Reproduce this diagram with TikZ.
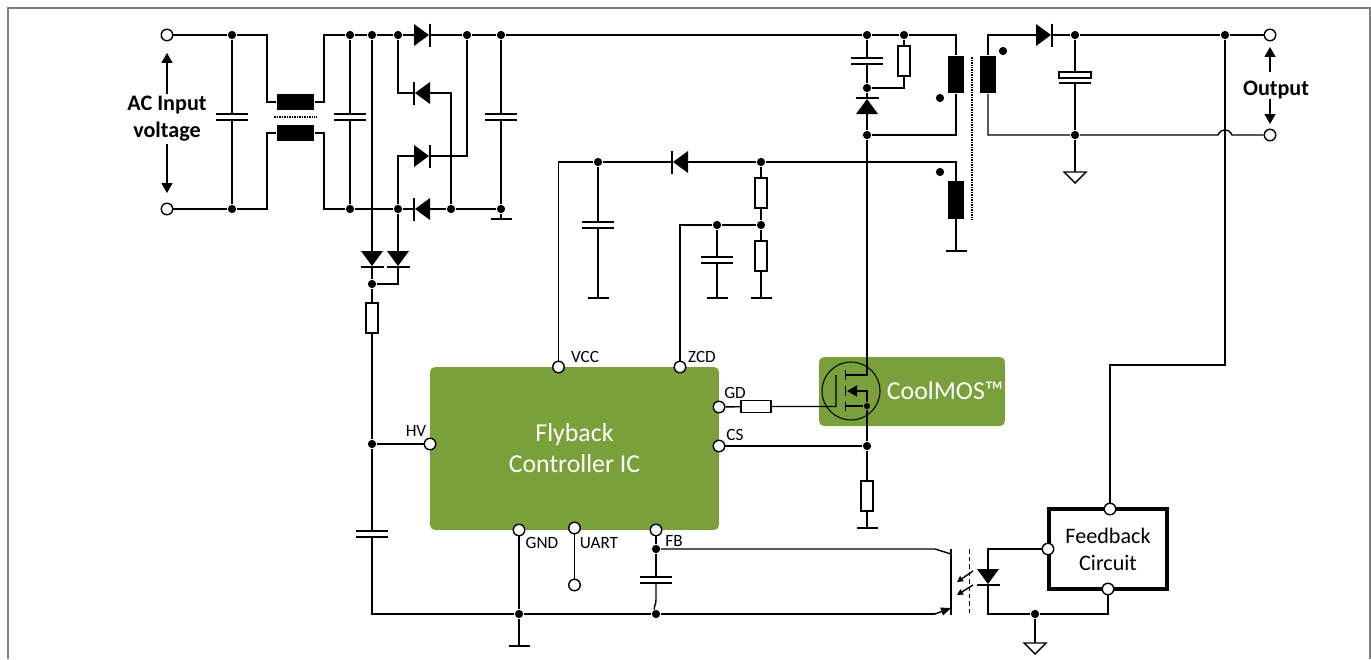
\documentclass[tikz,border=0pt]{standalone}
\usepackage{fontspec}
\setmainfont{Carlito}
\usetikzlibrary{arrows.meta}
\definecolor{icgreen}{HTML}{7AA03B}
\definecolor{framegray}{HTML}{7F7F7F}
\tikzset{
	junction/.style={circle,fill=black,inner sep=0pt,minimum size=0.165cm},
	pinnode/.style={circle,draw=black,fill=white,inner sep=0pt,minimum size=0.23cm},
	resv/.style={rectangle,draw=black,fill=white,inner sep=0pt,minimum width=0.24cm,minimum height=0.6cm},
	resh/.style={rectangle,draw=black,fill=white,inner sep=0pt,minimum width=0.6cm,minimum height=0.24cm},
	coilv/.style={rectangle,fill=black,inner sep=0pt,minimum width=0.32cm,minimum height=0.75cm},
	coilh/.style={rectangle,fill=black,inner sep=0pt,minimum width=0.75cm,minimum height=0.32cm},
	icbox/.style={rectangle,rounded corners=0.1cm,fill=icgreen,text=white,inner sep=0pt,align=center,font=\fontsize{14.7}{17.6}\selectfont},
	fbbox/.style={rectangle,draw=black,line width=2pt,fill=white,inner sep=0pt,align=center,minimum width=2.36cm,minimum height=1.6cm,font=\fontsize{12.6}{15.3}\selectfont},
	pinlabel/.style={inner sep=0pt,font=\fontsize{9.8}{11}\selectfont},
	boldlabel/.style={inner sep=1pt,align=center,font=\bfseries\fontsize{12.6}{15.3}\selectfont},
	voltarrow/.style={-{Triangle[length=0.2cm,width=0.22cm]}},
	coredash/.style={dash pattern=on 0.03cm off 0.02cm},
	pics/diode/.style={code={
		\fill (-8,-11) -- (-8,11) -- (7,0) -- cycle;
		\draw (8,-11.5) -- (8,11.5);
		\coordinate (-a) at (-8,0);
		\coordinate (-k) at (8,0);
	}},
	pics/capv/.style={code={
		\draw (-16,-3) -- (16,-3) (-16,3) -- (16,3);
		\coordinate (-t) at (0,-3);
		\coordinate (-b) at (0,3);
	}},
	pics/capp/.style={code={
		\draw[fill=white] (-16,-5) rectangle (16,1);
		\draw (-16,6) -- (16,6);
		\coordinate (-t) at (0,-5);
		\coordinate (-b) at (0,6);
	}},
	pics/gndbar/.style={code={
		\draw[line width=1.2pt] (-10.5,0) -- (10.5,0);
		\coordinate (-t) at (0,0);
	}},
	pics/gndtri/.style={code={
		\draw (-11,0) -- (11,0) -- (0,11) -- cycle;
		\coordinate (-t) at (0,0);
	}},
}
\begin{document}
\begin{tikzpicture}[x=0.02cm,y=-0.02cm,line width=0.8pt]
	\useasboundingbox (0,0) rectangle (1371,659);
	\coordinate (framea) at (8,659);
	\coordinate (frameb) at (8,8);
	\coordinate (framec) at (1370,8);
	\coordinate (framed) at (1370,659);
	\draw[framegray,line width=0.9pt] (framea) -- (frameb) -- (framec) -- (framed);

	\node[icbox,minimum width=5.78cm,minimum height=3.26cm] (ic) at (574.5,448.5) {Flyback\\Controller IC};
	\node[icbox,minimum width=3.72cm,minimum height=1.38cm] (mosbox) at (912,391.5) {};
	\node[text=white,inner sep=0pt,font=\fontsize{14.7}{17.6}\selectfont] (moslabel) at (945,391) {CoolMOS™};
	\node[fbbox] (fbc) at (1108,549) {Feedback\\Circuit};

	\node[pinnode] (ina) at (167,35) {};
	\node[pinnode] (inb) at (167,209) {};
	\node[pinnode] (outa) at (1270,35) {};
	\node[pinnode] (outb) at (1270,135) {};
	\node[pinnode] (vcc) at (558.5,367) {};
	\node[pinnode] (zcd) at (680,367) {};
	\node[pinnode] (gd) at (719,407) {};
	\node[pinnode] (cs) at (719,446) {};
	\node[pinnode] (hv) at (430,444) {};
	\node[pinnode] (gnd) at (519,530) {};
	\node[pinnode] (uart) at (574.5,528) {};
	\node[pinnode] (uartb) at (574.5,585) {};
	\node[pinnode] (fb) at (656,530) {};
	\node[pinnode] (fbtop) at (1110,509) {};
	\node[pinnode] (fbleft) at (1048,549) {};
	\node[pinnode] (fbbot) at (1108,589) {};

	\node[pinlabel] (vcclabel) at (585,357) {VCC};
	\node[pinlabel] (zcdlabel) at (702,357) {ZCD};
	\node[pinlabel] (gdlabel) at (735,393) {GD};
	\node[pinlabel] (cslabel) at (735,435) {CS};
	\node[pinlabel] (hvlabel) at (416,431) {HV};
	\node[pinlabel] (gndlabel) at (542,543) {GND};
	\node[pinlabel] (uartlabel) at (599,543) {UART};
	\node[pinlabel] (fblabel) at (674,541) {FB};
	\node[boldlabel] (aclabel) at (167,119) {AC Input\\voltage};
	\node[boldlabel] (outlabel) at (1276,90) {Output};

	\node[junction] (jia) at (232,35) {};
	\node[junction] (jib) at (232,209) {};
	\node[junction] (jta) at (350,35) {};
	\node[junction] (jtb) at (372,35) {};
	\node[junction] (jtc) at (398,35) {};
	\node[junction] (jtd) at (467,35) {};
	\node[junction] (jte) at (501,35) {};
	\node[junction] (jba) at (350,209) {};
	\node[junction] (jbb) at (398,209) {};
	\node[junction] (jbc) at (451,209) {};
	\node[junction] (jbd) at (501,209) {};
	\node[junction] (jhd) at (372,284) {};
	\node[junction] (jhv) at (372,444) {};
	\node[junction] (jsa) at (867,35) {};
	\node[junction] (jsb) at (904,35) {};
	\node[junction] (jsc) at (867,88) {};
	\node[junction] (jsd) at (867,135) {};
	\node[junction] (jva) at (1075,35) {};
	\node[junction] (jvb) at (1225,35) {};
	\node[junction] (jvc) at (1075,135) {};
	\node[junction] (jaa) at (598,162) {};
	\node[junction] (jab) at (761,162) {};
	\node[junction] (jac) at (761,225) {};
	\node[junction] (jad) at (717,225) {};
	\node[junction,minimum size=0.125cm] (jmos) at (867,406) {};
	\node[junction] (jcs) at (867,446) {};
	\node[junction] (jga) at (519,614) {};
	\node[junction] (jgb) at (656,614) {};
	\node[junction] (jfb) at (656,549) {};
	\node[junction] (jfg) at (1035,614) {};

	\node[junction] (phasea) at (940,98) {};
	\node[junction] (phaseb) at (1003,51) {};
	\node[junction] (phasec) at (940,172) {};

	\node[coilh] (chokea) at (295.5,102) {};
	\node[coilh] (chokeb) at (295.5,133) {};
	\node[coilv] (pri) at (956,74.5) {};
	\node[coilv] (sec) at (988,74.5) {};
	\node[coilv] (aux) at (956,200) {};

	\node[resv] (ra) at (372,318) {};
	\node[resv] (rb) at (904,61) {};
	\node[resv] (rc) at (761,193) {};
	\node[resv] (rd) at (761,256) {};
	\node[resv] (re) at (867,496) {};
	\node[resh] (rg) at (756,406.5) {};

	\pic (da) at (422,35) {diode};
	\pic[rotate=180] (db) at (422,93) {diode};
	\pic (dc) at (422,156) {diode};
	\pic[rotate=180] (dd) at (422,209) {diode};
	\pic[rotate=-90] (de) at (372,259) {diode};
	\pic[rotate=-90] (df) at (398,259) {diode};
	\pic[rotate=90] (dg) at (867,106) {diode};
	\pic (dh) at (1044,35) {diode};
	\pic[rotate=180] (di) at (680,162) {diode};
	\pic[rotate=-90] (dj) at (988,577) {diode};

	\pic (ca) at (232,117) {capv};
	\pic (cb) at (350,117) {capv};
	\pic (cc) at (501,117) {capv};
	\pic (cd) at (867,61) {capv};
	\pic (ce) at (598,225) {capv};
	\pic (cf) at (717,260) {capv};
	\pic (cg) at (372,534) {capv};
	\pic (ch) at (656,580) {capv};
	\pic (cp) at (1075,77) {capp};

	\pic (ga) at (501,219) {gndbar};
	\pic (gb) at (598,298) {gndbar};
	\pic (gc) at (717,298) {gndbar};
	\pic (gd) at (761,298) {gndbar};
	\pic (ge) at (956,251) {gndbar};
	\pic (gf) at (867,528) {gndbar};
	\pic (gg) at (519,646) {gndbar};
	\pic (gh) at (1075,172) {gndtri};
	\pic (gi) at (1035,643) {gndtri};

	\coordinate (tla) at (267,102);
	\coordinate (tlb) at (267,133);
	\coordinate (tra) at (324,102);
	\coordinate (trb) at (324,133);
	\draw (ina) -- (jia) -| (tla) -- (chokea);
	\draw (inb) -- (jib) -| (tlb) -- (chokeb);
	\draw (chokea) -- (tra) |- (jta) -- (jtb) -- (jtc) -- (da-a);
	\draw (chokeb) -- (trb) |- (jba) -- (jbb) -- (dd-k);
	\draw (dd-a) -- (jbc) -- (jbd);
	\draw (da-k) -- (jtd) -- (jte) -- (jsa) -- (jsb) -| (pri.north);
	\draw (jia) -- (ca-t) (ca-b) -- (jib);
	\draw (jta) -- (cb-t) (cb-b) -- (jba);
	\draw (jte) -- (cc-t) (cc-b) -- (jbd) -- (ga-t);
	\draw (jtc) |- (db-k);
	\draw (db-a) -| (jbc);
	\draw (dc-a) -| (jbb);
	\draw (dc-k) -| (jtd);
	\draw (jtb) -- (de-a) (de-k) -- (jhd);
	\draw (jbb) -- (df-a);
	\draw (df-k) |- (jhd);
	\draw (jhd) -- (ra) -- (jhv) -- (cg-t);
	\draw (jhv) -- (hv);
	\draw (cg-b) |- (jga);

	\coordinate (chokeda) at (274,117);
	\coordinate (chokedb) at (317,117);
	\draw[coredash] (chokeda) -- (chokedb);
	\coordinate (corea) at (972,57);
	\coordinate (coreb) at (972,220);
	\draw[coredash,line width=1pt] (corea) -- (coreb);

	\draw (jsa) -- (cd-t) (cd-b) -- (jsc);
	\draw (jsb) -- (rb) |- (jsc);
	\draw (jsc) -- (dg-k) (dg-a) -- (jsd);
	\draw (pri.south) |- (jsd);
	\draw (sec.north) |- (dh-a);
	\draw (dh-k) -- (jva) -- (jvb) -- (outa);
	\coordinate (jumpa) at (1218,135);
	\coordinate (jumpb) at (1232,135);
	\draw (sec.south) |- (jvc) -- (jumpa) .. controls (1221,128) and (1229,128) .. (jumpb) -- (outb);
	\draw (jva) -- (cp-t) (cp-b) -- (jvc) -- (gh-t);
	\coordinate (fbbend) at (1110,365);
	\draw (jvb) |- (fbbend) -- (fbtop);

	\draw (vcc) |- (jaa) -- (di-k);
	\draw (di-a) -- (jab) -| (aux.north);
	\draw (aux.south) -- (ge-t);
	\draw (jaa) -- (ce-t) (ce-b) -- (gb-t);
	\draw (jab) -- (rc) -- (jac) -- (rd) -- (gd-t);
	\draw (zcd) |- (jad) -- (jac);
	\draw (jad) -- (cf-t) (cf-b) -- (gc-t);

	\node[circle,draw=black,line width=0.6pt,inner sep=0pt,minimum size=1.16cm] (mos) at (851,391) {};
	\coordinate (drain) at (867,375);
	\coordinate (draina) at (846,375);
	\coordinate (sourcea) at (846,406);
	\coordinate (arrowa) at (867,391);
	\coordinate (arrowb) at (847,391);
	\coordinate (gatea) at (836,406.5);
	\coordinate (gateb) at (836,375);
	\draw (jsd) -- (drain) -- (draina);
	\draw[line width=1pt] (845.5,370) -- (845.5,380) (845.5,386) -- (845.5,396) (845.5,402) -- (845.5,411);
	\draw (sourcea) -- (jmos);
	\draw[-{Triangle[length=0.2cm,width=0.22cm]}] (jmos) -- (arrowa) -- (arrowb);
	\draw (gd) -- (rg) -- (gatea) -- (gateb);
	\draw (jmos) -- (jcs) -- (re) -- (gf-t);
	\draw (cs) -- (jcs);

	\draw (gnd) -- (jga) -- (gg-t);
	\draw (uart) -- (uartb);
	\coordinate (chbend) at (656,600);
	\draw (fb) -- (jfb) -- (ch-t);
	\draw (ch-b) -- (chbend) .. controls (656,606) and (653,607) .. (jgb);

	\coordinate (optoa) at (935,549);
	\coordinate (optob) at (951,554);
	\coordinate (optoc) at (951,549);
	\coordinate (optod) at (951,615);
	\coordinate (optoe) at (935,614);
	\coordinate (optof) at (951,608);
	\draw (jfb) -- (optoa) -- (optob);
	\draw (optoc) -- (optod);
	\draw (jga) -- (jgb) -- (optoe);
	\draw[-{Triangle[length=0.2cm,width=0.16cm]}] (optoe) -- (optof);
	\coordinate (optodasha) at (969.5,549);
	\coordinate (optodashb) at (969.5,613);
	\draw[dash pattern=on 0.09cm off 0.06cm] (optodasha) -- (optodashb);
	\coordinate (lighta) at (973,571);
	\coordinate (lightb) at (957,582);
	\coordinate (lightc) at (973,585);
	\coordinate (lightd) at (957,595);
	\draw[-{Triangle[length=0.12cm,width=0.12cm]}] (lighta) -- (lightb);
	\draw[-{Triangle[length=0.12cm,width=0.12cm]}] (lightc) -- (lightd);
	\draw (fbleft) -| (dj-a);
	\draw (dj-k) |- (jfg);
	\draw (jfg) -| (fbbot);
	\draw (jfg) -- (gi-t);

	\coordinate (arra) at (167,53);
	\coordinate (arrb) at (167,193);
	\coordinate (arrc) at (1270,47);
	\coordinate (arrd) at (1270,124);
	\coordinate (arrca) at (1270,72);
	\coordinate (arrda) at (1270,99);
	\draw[voltarrow] (aclabel.north) -- (arra);
	\draw[voltarrow] (aclabel.south) -- (arrb);
	\draw[voltarrow] (arrca) -- (arrc);
	\draw[voltarrow] (arrda) -- (arrd);
\end{tikzpicture}
\end{document}
